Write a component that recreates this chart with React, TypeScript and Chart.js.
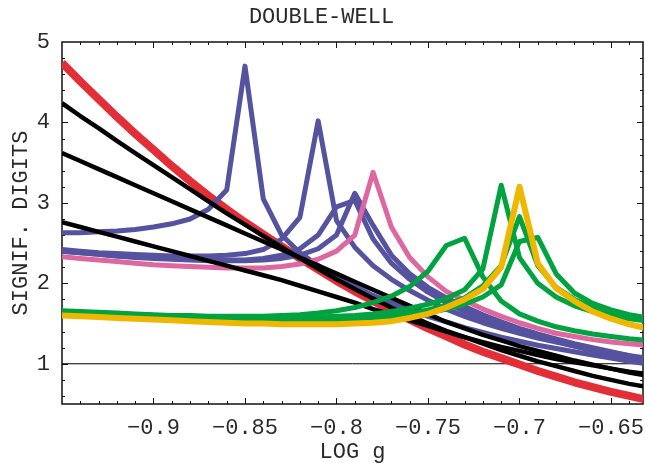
import React, { useEffect, useRef } from "react";
import { Chart, registerables } from "chart.js";

Chart.register(...registerables);

// x positions (LOG g), sampled every 0.01
const xValues = [
  -0.95, -0.94, -0.93, -0.92, -0.91, -0.9, -0.89, -0.88, -0.87, -0.86, -0.85,
  -0.84, -0.83, -0.82, -0.81, -0.8, -0.79, -0.78, -0.77, -0.76, -0.75, -0.74,
  -0.73, -0.72, -0.71, -0.7, -0.69, -0.68, -0.67, -0.66, -0.65, -0.64, -0.63,
];

const redSeries = [4.74,4.51,4.29,4.07,3.86,3.66,3.46,3.27,3.09,2.92,2.76,2.61,2.46,2.31,2.17,2.03,1.90,1.78,1.66,1.55,1.44,1.34,1.24,1.15,1.07,0.99,0.91,0.84,0.77,0.71,0.65,0.60,0.55];
const blackA = [4.24,4.08,3.93,3.77,3.62,3.47,3.32,3.17,3.02,2.87,2.73,2.59,2.45,2.31,2.18,2.05,1.93,1.81,1.70,1.60,1.50,1.41,1.33,1.25,1.17,1.10,1.03,0.97,0.91,0.85,0.80,0.75,0.71];
const blackB = [3.62,3.52,3.42,3.32,3.22,3.12,3.02,2.92,2.82,2.72,2.62,2.52,2.42,2.32,2.22,2.12,2.02,1.92,1.82,1.72,1.62,1.52,1.44,1.36,1.29,1.22,1.16,1.10,1.04,0.99,0.94,0.89,0.85];
const blackC = [2.76,2.70,2.64,2.58,2.52,2.46,2.40,2.34,2.28,2.22,2.16,2.10,2.04,1.97,1.90,1.83,1.76,1.68,1.61,1.54,1.47,1.40,1.33,1.27,1.21,1.16,1.11,1.06,1.02,0.98,0.94,0.90,0.87];
const blue1 = [2.63,2.63,2.64,2.65,2.67,2.70,2.74,2.80,2.92,3.16,4.70,3.05,2.60,2.38,2.22,2.08,1.96,1.85,1.76,1.67,1.59,1.52,1.45,1.39,1.33,1.28,1.23,1.19,1.15,1.11,1.07,1.03,1.00];
const blue2 = [2.42,2.40,2.38,2.37,2.36,2.35,2.34,2.34,2.34,2.35,2.37,2.42,2.55,2.82,4.02,2.78,2.45,2.22,2.05,1.91,1.79,1.68,1.59,1.51,1.44,1.38,1.32,1.27,1.22,1.18,1.14,1.10,1.07];
const blue3 = [2.40,2.38,2.36,2.34,2.32,2.31,2.30,2.29,2.28,2.28,2.28,2.29,2.31,2.35,2.43,2.60,3.12,2.72,2.35,2.12,1.95,1.82,1.71,1.61,1.52,1.44,1.37,1.31,1.25,1.20,1.15,1.10,1.05];
const blue4 = [2.40,2.38,2.36,2.34,2.33,2.32,2.31,2.30,2.29,2.29,2.29,2.31,2.35,2.43,2.60,2.95,3.03,2.55,2.25,2.05,1.89,1.76,1.65,1.56,1.48,1.41,1.34,1.28,1.22,1.16,1.11,1.06,1.02];
const pinkSeries = [2.33,2.31,2.29,2.27,2.25,2.23,2.22,2.21,2.20,2.19,2.19,2.19,2.21,2.24,2.30,2.40,2.60,3.38,2.70,2.32,2.08,1.90,1.79,1.68,1.59,1.51,1.44,1.38,1.34,1.30,1.27,1.25,1.23];
const green1 = [1.66,1.65,1.64,1.63,1.62,1.61,1.60,1.60,1.59,1.59,1.59,1.59,1.60,1.61,1.63,1.66,1.70,1.76,1.84,1.96,2.15,2.47,2.56,2.08,1.78,1.62,1.53,1.46,1.41,1.37,1.34,1.31,1.29];
const green2 = [1.65,1.64,1.63,1.62,1.61,1.60,1.59,1.58,1.58,1.57,1.57,1.57,1.57,1.57,1.58,1.59,1.60,1.62,1.65,1.69,1.74,1.81,1.92,2.18,3.22,2.32,2.00,1.83,1.72,1.65,1.60,1.56,1.53];
const green3 = [1.65,1.64,1.63,1.62,1.61,1.60,1.59,1.58,1.57,1.56,1.56,1.55,1.55,1.55,1.55,1.56,1.57,1.58,1.60,1.63,1.67,1.73,1.82,1.97,2.22,2.83,2.22,1.95,1.80,1.70,1.63,1.58,1.55];
const green4 = [1.65,1.64,1.63,1.62,1.61,1.60,1.59,1.58,1.57,1.56,1.55,1.55,1.54,1.54,1.54,1.54,1.55,1.56,1.58,1.60,1.63,1.68,1.74,1.83,1.98,2.52,2.57,2.12,1.88,1.75,1.67,1.61,1.57];
const yellowSeries = [1.60,1.59,1.58,1.57,1.56,1.55,1.54,1.53,1.52,1.51,1.50,1.50,1.49,1.49,1.49,1.49,1.50,1.51,1.53,1.57,1.62,1.70,1.80,1.93,2.20,3.20,2.25,1.94,1.78,1.65,1.56,1.49,1.44];

const referenceLevel = 1;

const xTickValues = [-0.9, -0.85, -0.8, -0.75, -0.7, -0.65];
const yTickValues = [1, 2, 3, 4, 5];

const X_MIN = -0.95;
const X_MAX = -0.6325;
const Y_MIN = 0.5;
const Y_MAX = 5;

const FONT = "'Liberation Mono', 'DejaVu Sans Mono', monospace";
const TEXT = "#2a2a2a";

const RED = "#E32D37";
const BLACK = "#000000";
const BLUE = "#55539F";
const PINK = "#DF67A0";
const GREEN = "#00A33F";
const YELLOW = "#EFB700";

function toPoints(ys: number[]) {
  return xValues.map((x, i) => ({ x, y: ys[i] }));
}

const framePlugin = {
  id: "frameTicks",
  beforeDatasetsDraw(chart: any) {
    const { ctx, chartArea, scales } = chart;
    const { left, right, top, bottom } = chartArea;
    const xs = scales.x;
    const ys = scales.y;
    ctx.save();
    ctx.strokeStyle = "#111";
    ctx.lineWidth = 1;
    ctx.beginPath();
    for (let k = -94; k <= -64; k++) {
      const v = k / 100;
      const major = k % 5 === 0;
      const len = major ? 6 : 3;
      const px = Math.round(xs.getPixelForValue(v)) + 0.5;
      ctx.moveTo(px, bottom);
      ctx.lineTo(px, bottom - len);
      ctx.moveTo(px, top);
      ctx.lineTo(px, top + len);
    }
    for (let k = 3; k <= 24; k++) {
      const v = k / 5;
      const major = k % 5 === 0;
      const len = major ? 6 : 3;
      const py = Math.round(ys.getPixelForValue(v)) + 0.5;
      ctx.moveTo(left, py);
      ctx.lineTo(left + len, py);
      ctx.moveTo(right, py);
      ctx.lineTo(right - len, py);
    }
    ctx.stroke();
    ctx.lineWidth = 1.5;
    ctx.strokeRect(left, top, right - left, bottom - top);
    ctx.restore();
  },
};

export default function App() {
  const canvasRef = useRef<HTMLCanvasElement | null>(null);

  useEffect(() => {
    const canvas = canvasRef.current;
    if (!canvas) return;
    const line = (data: number[], color: string, width: number, order: number) => ({
      data: toPoints(data),
      borderColor: color,
      backgroundColor: color,
      borderWidth: width,
      pointRadius: 0,
      tension: 0,
      fill: false,
      clip: 0,
      borderJoinStyle: "round" as const,
      order,
    });
    const chart = new Chart(canvas, {
      type: "line",
      data: {
        datasets: [
          {
            data: [
              { x: X_MIN, y: referenceLevel },
              { x: X_MAX, y: referenceLevel },
            ],
            borderColor: BLACK,
            borderWidth: 1,
            pointRadius: 0,
            fill: false,
            clip: 0,
            order: 100,
          } as any,
          line(redSeries, RED, 8, 90),
          line(blue1, BLUE, 5, 60),
          line(blue2, BLUE, 5, 61),
          line(blue3, BLUE, 5, 62),
          line(blue4, BLUE, 5, 63),
          line(pinkSeries, PINK, 5, 50),
          line(blackA, BLACK, 4.5, 40),
          line(blackB, BLACK, 4.5, 41),
          line(blackC, BLACK, 4.5, 42),
          line(green1, GREEN, 5, 20),
          line(green2, GREEN, 5, 21),
          line(green3, GREEN, 5, 22),
          line(green4, GREEN, 5, 23),
          line(yellowSeries, YELLOW, 6, 10),
        ],
      },
      options: {
        responsive: false,
        animation: false,
        devicePixelRatio: 1,
        layout: { padding: { top: 0, right: 2, bottom: 0, left: 0 } },
        plugins: {
          legend: { display: false },
          tooltip: { enabled: false },
          title: {
            display: true,
            text: "DOUBLE-WELL",
            color: TEXT,
            font: { family: FONT, size: 22, weight: "normal" },
            padding: { top: 4, bottom: 11.6 },
          },
        },
        scales: {
          x: {
            type: "linear",
            min: X_MIN,
            max: X_MAX,
            grid: { display: false, drawTicks: false },
            border: { display: false },
            afterBuildTicks: (s: any) => {
              s.ticks = xTickValues.map((v) => ({ value: v }));
            },
            afterFit: (s: any) => {
              s.height = 59;
              s.paddingLeft = 0;
              s.paddingRight = 0;
            },
            ticks: {
              autoSkip: false,
              maxRotation: 0,
              padding: 11,
              color: TEXT,
              font: { family: FONT, size: 22 },
              callback: (v: any) => "\u2212" + String(Math.abs(Number(v))),
            },
            title: {
              display: true,
              text: "LOG g",
              color: TEXT,
              font: { family: FONT, size: 22 },
              padding: { top: 0, bottom: -2 },
            },
          },
          y: {
            type: "linear",
            min: Y_MIN,
            max: Y_MAX,
            grid: { display: false, drawTicks: false },
            border: { display: false },
            afterBuildTicks: (s: any) => {
              s.ticks = yTickValues.map((v) => ({ value: v }));
            },
            afterFit: (s: any) => {
              s.width = 62;
              s.paddingTop = 0;
              s.paddingBottom = 0;
            },
            ticks: {
              autoSkip: false,
              padding: 12,
              color: TEXT,
              font: { family: FONT, size: 22 },
              callback: (v: any) => String(v),
            },
            title: {
              display: true,
              text: "SIGNIF. DIGITS",
              color: TEXT,
              font: { family: FONT, size: 22 },
              padding: { top: 8, bottom: 0 },
            },
          },
        },
      },
      plugins: [framePlugin],
    });
    return () => chart.destroy();
  }, []);

  return (
    <div style={{ position: "fixed", left: 0, top: 0, width: 645, height: 463, background: "#fff" }}>
      <canvas ref={canvasRef} width={645} height={463} style={{ display: "block" }} />
    </div>
  );
}
